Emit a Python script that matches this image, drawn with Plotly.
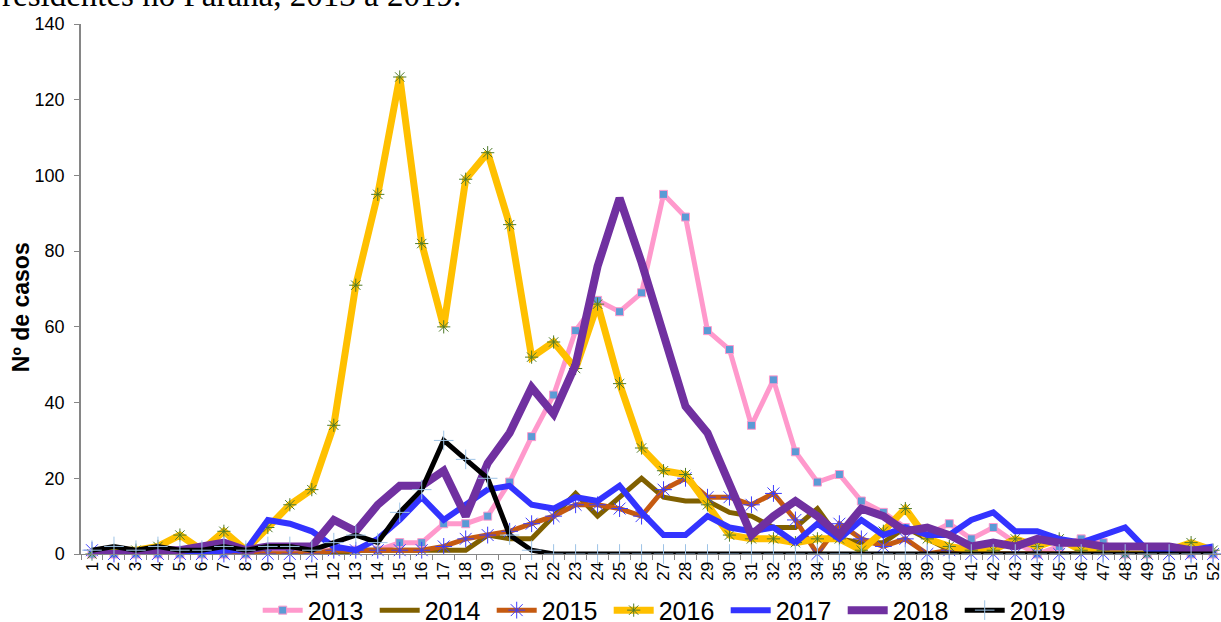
import plotly.graph_objects as go

weeks = [str(i) for i in range(1, 53)]

y2013 = [0, 0, 0, 0, 0, 0, 0, 0, 1, 1, 1, 1, 1, 1, 3, 3, 8, 8, 10, 19, 31, 42, 59, 67, 64, 69,
         95, 89, 59, 54, 34, 46, 27, 19, 21, 14, 11, 7, 5, 8, 4, 7, 3, 0, 2, 4, 3, 0, 0, 1, 0, 0]
y2014 = [0, 0, 0, 0, 0, 0, 0, 0, 0, 0, 0, 0, 1, 1, 1, 1, 1, 1, 5, 4, 4, 10, 16, 10, 15, 20,
         15, 14, 14, 11, 10, 7, 7, 12, 4, 3, 3, 7, 4, 1, 0, 0, 0, 0, 0, 0, 0, 0, 0, 0, 0, 0]
y2015 = [1, 0, 0, 0, 0, 0, 0, 0, 0, 0, 0, 1, 1, 1, 1, 1, 2, 4, 5, 6, 8, 10, 13, 13, 12, 10,
         17, 20, 15, 15, 13, 16, 9, 0, 8, 4, 2, 4, 0, 1, 0, 0, 0, 0, 0, 0, 0, 0, 0, 0, 0, 0]
y2016 = [0, 1, 1, 2, 5, 1, 6, 1, 7, 13, 17, 34, 71, 95, 126, 82, 60, 99, 106, 87, 52, 56, 49, 66, 45, 28,
         22, 21, 13, 5, 4, 4, 3, 4, 4, 1, 6, 12, 4, 2, 1, 1, 4, 2, 4, 1, 1, 0, 0, 1, 3, 1]
y2017 = [0, 0, 0, 1, 0, 0, 1, 1, 9, 8, 6, 2, 1, 4, 9, 15, 9, 13, 17, 18, 13, 12, 15, 14, 18, 11,
         5, 5, 10, 7, 6, 7, 3, 8, 4, 9, 5, 7, 5, 5, 9, 11, 6, 6, 4, 3, 5, 7, 1, 1, 1, 2]
y2018 = [0, 0, 0, 1, 1, 2, 3, 1, 2, 2, 2, 9, 6, 13, 18, 18, 22, 10, 24, 32, 44, 37, 50, 76, 94, 77,
         58, 39, 32, 19, 5, 10, 14, 10, 5, 12, 10, 6, 7, 5, 2, 3, 2, 4, 3, 3, 2, 2, 2, 2, 1, 1]
y2019 = [1, 2, 1, 2, 1, 1, 2, 1, 2, 2, 1, 3, 5, 3, 11, 17, 30, 25, 20, 5, 1, 0, 0, 0, 0, 0,
         0, 0, 0, 0, 0, 0, 0, 0, 0, 0, 0, 0, 0, 0, 0, 0, 0, 0, 0, 0, 0, 0, 0, 0, 0, 0]

series = [
    ("2013", y2013, dict(color="#FF99CC", width=5), dict(symbol="square", size=8, color="#5B9BD5", line=dict(color="#FF99CC", width=1))),
    ("2014", y2014, dict(color="#806000", width=5), None),
    ("2015", y2015, dict(color="#C55A11", width=5), dict(symbol="asterisk-open", size=14, color="#3B3BFF", line=dict(color="#3B3BFF", width=1))),
    ("2016", y2016, dict(color="#FFC000", width=7), dict(symbol="asterisk-open", size=11, color="#4E7A2A", line=dict(color="#4E7A2A", width=1))),
    ("2017", y2017, dict(color="#3333FF", width=6), None),
    ("2018", y2018, dict(color="#7030A0", width=8), None),
    ("2019", y2019, dict(color="#000000", width=5), dict(symbol="cross-thin-open", size=14, color="#9DC3E6", line=dict(color="#9DC3E6", width=1))),
]

fig = go.Figure()
for name, ys, line, marker in series:
    fig.add_trace(go.Scatter(
        x=weeks, y=ys, name=name,
        mode="lines+markers" if marker else "lines",
        line=line, marker=marker, cliponaxis=False,
    ))

fig.update_layout(
    width=1221, height=622,
    margin=dict(l=81, r=0, t=24, b=68, autoexpand=False),
    paper_bgcolor="white", plot_bgcolor="white",
    font=dict(family="Liberation Sans, Arial, sans-serif", color="black"),
    showlegend=True,
    legend=dict(orientation="h", x=0.155, y=-0.063, xanchor="left", yanchor="top",
                font=dict(size=25, family="Liberation Sans, Arial"),
                entrywidth=62, entrywidthmode="pixels", itemwidth=40,
                bgcolor="rgba(0,0,0,0)"),
    xaxis=dict(type="category", range=[-0.5, 51.36], showgrid=False, zeroline=False,
               automargin=False,
               showline=True, linecolor="#868686", linewidth=1,
               ticks="outside", tickson="boundaries", ticklen=5, tickcolor="#868686",
               tickangle=-90, tickfont=dict(size=17, family="Liberation Sans, Arial")),
    yaxis=dict(range=[0, 140], dtick=20, showgrid=False, zeroline=False,
               automargin=False,
               showline=True, linecolor="#868686", linewidth=1.5,
               ticks="outside", ticklen=5, tickcolor="#868686", ticklabelstandoff=6,
               tickfont=dict(size=18, family="Liberation Sans, Arial")),
    annotations=[
        dict(text="<b>Nº de casos</b>", xref="paper", yref="paper", x=-0.0525, y=0.466,
             showarrow=False, textangle=-90, font=dict(size=23, family="Liberation Sans, Arial"),
             xanchor="center", yanchor="middle"),
        dict(text="residentes no Paraná, 2013 a 2019.", xref="paper", yref="paper",
             x=-0.071, y=1.017, xanchor="left", yanchor="bottom", showarrow=False,
             font=dict(size=33, family="Liberation Serif, Times New Roman, serif")),
    ],
)

fig.write_html("out.html", config={"displayModeBar": False},
               post_script="document.body.style.margin='0';document.body.style.padding='0';")
